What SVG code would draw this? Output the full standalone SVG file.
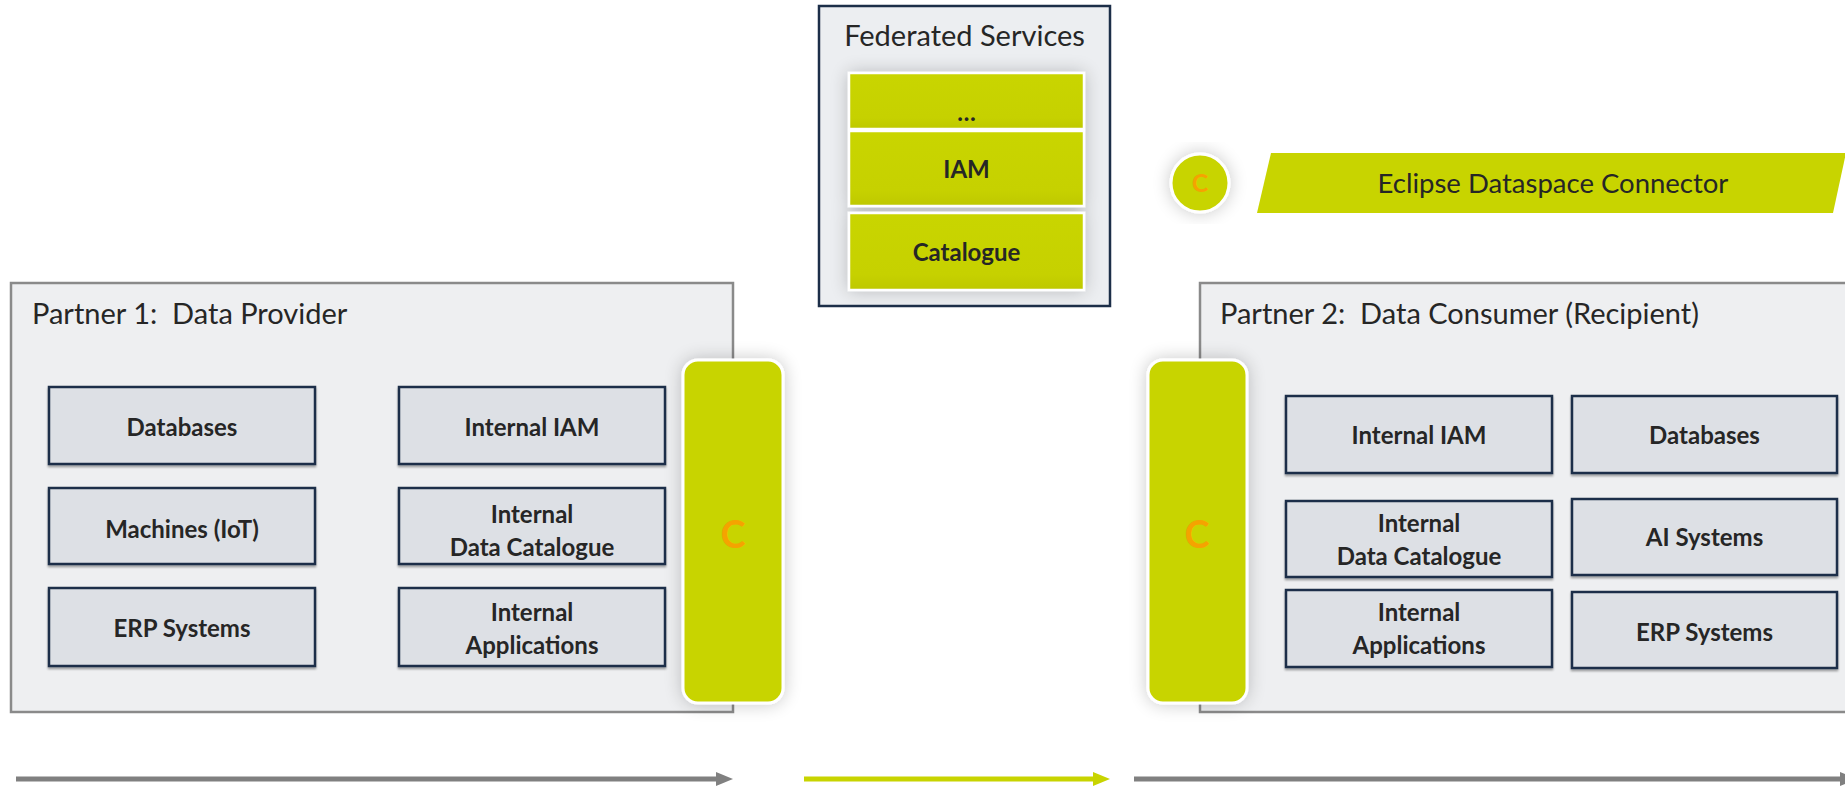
<svg xmlns="http://www.w3.org/2000/svg" width="1845" height="786" viewBox="0 0 1845 786">
<style>
.partner{fill:#eeeff1;stroke:#8a8a8a;stroke-width:2.5}
.inner{fill:#dde0e5;stroke:#1c2e48;stroke-width:2.5}
.green{fill:url(#gg);stroke:#ffffff;stroke-width:2.5}
.bar{fill:#c8d400;stroke:#ffffff;stroke-width:3}
.title{font-family:Lato,"Open Sans",sans-serif;font-size:29px;fill:#262626}
.lbl{font-family:Lato,"Open Sans",sans-serif;font-size:24px;font-weight:bold;fill:#262626;text-anchor:middle}
.cbig{font-family:Lato,"Open Sans",sans-serif;font-size:38px;font-weight:bold;fill:#f5a300;text-anchor:middle}
.csmall{font-family:Lato,"Open Sans",sans-serif;font-size:25px;font-weight:bold;fill:#f5a300;text-anchor:middle}
.arrow{stroke-width:5;fill:none}
</style>
<defs>
<linearGradient id="gg" x1="0" y1="0" x2="0" y2="1">
<stop offset="0" stop-color="#c9d500"/>
<stop offset="0.8" stop-color="#c6d100"/>
<stop offset="1" stop-color="#bec800"/>
</linearGradient>
<filter id="sh" x="-40%" y="-20%" width="180%" height="140%">
<feGaussianBlur in="SourceAlpha" stdDeviation="9"/>
<feComponentTransfer><feFuncA type="linear" slope="0.22"/></feComponentTransfer>
<feMerge><feMergeNode/><feMergeNode in="SourceGraphic"/></feMerge>
</filter>
<filter id="sh2" x="-10%" y="-10%" width="120%" height="130%">
<feOffset in="SourceAlpha" dx="0" dy="1.5"/>
<feGaussianBlur stdDeviation="0.8"/>
<feComponentTransfer><feFuncA type="linear" slope="0.35"/></feComponentTransfer>
<feMerge><feMergeNode/><feMergeNode in="SourceGraphic"/></feMerge>
</filter>
<marker id="hg" viewBox="0 -7 17 14" refX="0" refY="0" markerWidth="17" markerHeight="14" markerUnits="userSpaceOnUse" orient="auto"><path d="M0,-7 L17,0 L0,7 z" fill="#808080"/></marker>
<marker id="hy" viewBox="0 -7 17 14" refX="0" refY="0" markerWidth="17" markerHeight="14" markerUnits="userSpaceOnUse" orient="auto"><path d="M0,-7 L17,0 L0,7 z" fill="#c8d400"/></marker>
</defs>
<rect width="1845" height="786" fill="#ffffff"/>

<g id="federated-services">
<rect x="819" y="6" width="291" height="300" fill="#eceef1" stroke="#1c2e48" stroke-width="2.5"/>
<text class="title" x="964.5" y="46" text-anchor="middle">Federated Services</text>
<g filter="url(#sh)">
<rect class="green" x="849" y="73" width="235" height="56"/>
<rect class="green" x="849" y="131" width="235" height="75"/>
<rect class="green" x="849" y="213" width="235" height="77"/>
</g>
<text class="lbl" x="966.5" y="121">…</text>
<text class="lbl" x="966.5" y="178">IAM</text>
<text class="lbl" x="966.5" y="261">Catalogue</text>
</g>

<g id="legend-edc">
<circle cx="1200" cy="183" r="29" fill="#c8d400" stroke="#ffffff" stroke-width="3" filter="url(#sh)"/>
<text class="csmall" x="1200" y="192">C</text>
<polygon points="1271,153 1846,153 1833,213 1257,213" fill="#c8d400"/>
<text class="title" x="1553" y="193" text-anchor="middle" style="font-size:27.5px">Eclipse Dataspace Connector</text>
</g>

<g id="partner1">
<rect class="partner" x="11" y="283" width="722" height="429"/>
<text class="title" x="32" y="324" xml:space="preserve">Partner 1:  Data Provider</text>
<g filter="url(#sh2)">
<rect class="inner" x="49" y="387" width="266" height="77"/>
<rect class="inner" x="49" y="488" width="266" height="76"/>
<rect class="inner" x="49" y="588" width="266" height="78"/>
<rect class="inner" x="399" y="387" width="266" height="77"/>
<rect class="inner" x="399" y="488" width="266" height="76"/>
<rect class="inner" x="399" y="588" width="266" height="78"/>
</g>
<text class="lbl" x="182" y="436">Databases</text>
<text class="lbl" x="182" y="538">Machines (IoT)</text>
<text class="lbl" x="182" y="637">ERP Systems</text>
<text class="lbl" x="532" y="436">Internal IAM</text>
<text class="lbl" x="532" y="523">Internal</text>
<text class="lbl" x="532" y="556">Data Catalogue</text>
<text class="lbl" x="532" y="621">Internal</text>
<text class="lbl" x="532" y="654">Applications</text>
</g>

<g id="connector1">
<rect class="bar" x="683" y="360" width="100" height="343" rx="15" ry="15" filter="url(#sh)"/>
<text class="cbig" x="733" y="548">C</text>
</g>

<g id="partner2">
<rect class="partner" x="1200" y="283" width="660" height="429"/>
<text class="title" x="1220" y="324" xml:space="preserve">Partner 2:  Data Consumer (Recipient)</text>
<g filter="url(#sh2)">
<rect class="inner" x="1286" y="396" width="266" height="77"/>
<rect class="inner" x="1286" y="501" width="266" height="76"/>
<rect class="inner" x="1286" y="590" width="266" height="77"/>
<rect class="inner" x="1572" y="396" width="265" height="77"/>
<rect class="inner" x="1572" y="499" width="265" height="76"/>
<rect class="inner" x="1572" y="592" width="265" height="76"/>
</g>
<text class="lbl" x="1419" y="444">Internal IAM</text>
<text class="lbl" x="1419" y="532">Internal</text>
<text class="lbl" x="1419" y="565">Data Catalogue</text>
<text class="lbl" x="1419" y="621">Internal</text>
<text class="lbl" x="1419" y="654">Applications</text>
<text class="lbl" x="1704.5" y="444">Databases</text>
<text class="lbl" x="1704.5" y="546">AI Systems</text>
<text class="lbl" x="1704.5" y="641">ERP Systems</text>
</g>

<g id="connector2">
<rect class="bar" x="1148" y="360" width="99" height="343" rx="15" ry="15" filter="url(#sh)"/>
<text class="cbig" x="1197" y="548">C</text>
</g>

<g id="connectors">
<line class="arrow" x1="16" y1="779" x2="716" y2="779" stroke="#808080" marker-end="url(#hg)"/>
<line class="arrow" x1="804" y1="779" x2="1093" y2="779" stroke="#c8d400" marker-end="url(#hy)"/>
<line class="arrow" x1="1134" y1="779" x2="1840" y2="779" stroke="#808080" marker-end="url(#hg)"/>
</g>
</svg>
